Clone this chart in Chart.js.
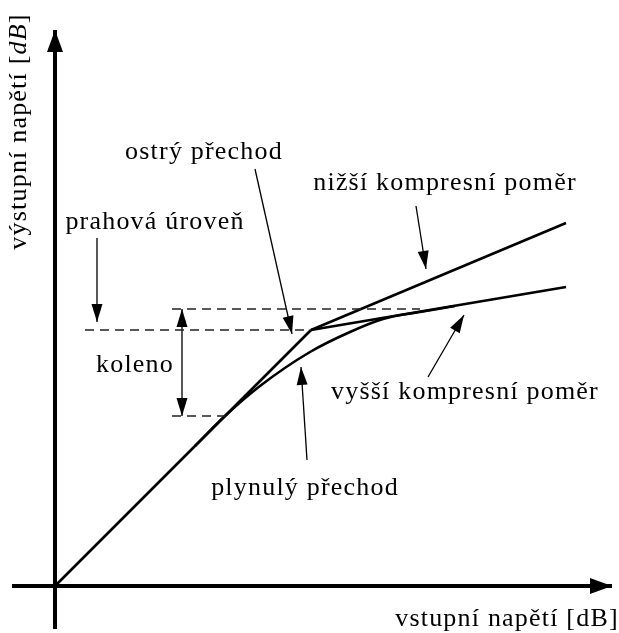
<!DOCTYPE html>
<html>
<head>
<meta charset="utf-8">
<script src="https://cdn.jsdelivr.net/npm/chart.js@4/dist/chart.umd.min.js"></script>
<style>
  html, body { margin: 0; padding: 0; background: #fff; }
</style>
</head>
<body>
<canvas id="kneeChart" width="619" height="633"></canvas>
<script>
// prevodni charakteristika kompresoru (jednotky = 10 px od pocatku)
const linearPart = [[0, 0], [25.6, 25.6]];
const lowRatio = [[25.6, 25.6], [51.1, 36.3]];
const highRatio = [[25.6, 25.6], [51.1, 29.9]];
const softKnee = [[14.0, 14.0], [17.0, 17.0], [20.5, 20.0], [25.5, 23.4], [29.5, 25.4], [32.8, 26.7], [36.5, 27.4], [40.0, 28.0]];

// pomocne carkovane cary
const thresholdDash = [[3.0, 25.6], [25.6, 25.6]];
const kneeTopDash = [[11.7, 27.7], [36.5, 27.7]];
const kneeBottomDash = [[11.7, 17.0], [17.0, 17.0]];

// osy
const xAxisLine = [[-4.3, 0], [55.7, 0]];
const yAxisLine = [[0, -4.3], [0, 55.6]];

// sipky popisku [od, k]
const arrowThreshold = [[4.2, 34.8], [4.2, 26.4]];
const arrowKnee = [[12.7, 27.7], [12.7, 17.0]];
const arrowHard = [[20.0, 41.7], [23.7, 25.2]];
const arrowLow = [[36.1, 38.0], [37.1, 31.7]];
const arrowHigh = [[37.3, 20.9], [40.9, 27.1]];
const arrowSoft = [[25.2, 12.6], [24.6, 21.9]];

// popisky
const labelTexts = ['ostrý přechod', 'prahová úroveň', 'nižší kompresní poměr', 'koleno', 'vyšší kompresní poměr', 'plynulý přechod', 'vstupní napětí [dB]'];
const labelX = [14.9, 10.0, 39.0, 8.0, 41.0, 25.0, 45.2];
const labelY = [43.4, 36.4, 40.3, 22.1, 19.4, 9.8, -3.3];
const yTitle = ['výstupní napětí [', 'dB', ']'];
const yTitlePos = [-3.6, 45.45];

const ink = '#000';
const font = '"Liberation Serif", serif';
const fontSize = 26;
const spacing = '1.2px';

function pts(arr) {
    return arr.map(p => ({ x: p[0], y: p[1] }));
}

function line(data, width, extra) {
    return Object.assign({
        data: pts(data),
        showLine: true,
        borderColor: ink,
        borderWidth: width,
        pointRadius: 0,
        fill: false
    }, extra || {});
}

// sipky a texty
const arrowPlugin = {
    id: 'arrowPlugin',
    afterDatasetsDraw(chart) {
        const ctx = chart.ctx;
        chart.data.datasets.forEach((ds, i) => {
            if (!ds.arrowHead) return;
            const pts = chart.getDatasetMeta(i).data;
            const head = (tip, from) => {
                const ang = Math.atan2(tip.y - from.y, tip.x - from.x);
                const len = ds.arrowHead.len, w = ds.arrowHead.w;
                ctx.save();
                ctx.translate(tip.x, tip.y);
                ctx.rotate(ang);
                ctx.beginPath();
                ctx.moveTo(0, 0);
                ctx.lineTo(-len, -w / 2);
                ctx.lineTo(-len, w / 2);
                ctx.closePath();
                ctx.fillStyle = ink;
                ctx.fill();
                ctx.restore();
            };
            const n = pts.length;
            head(pts[n - 1], pts[n - 2]);
            if (ds.arrowHead.both) head(pts[0], pts[1]);
        });

        const xs = chart.scales.x, ys = chart.scales.y;
        ctx.save();
        ctx.fillStyle = ink;
        ctx.font = fontSize + 'px ' + font;
        ctx.letterSpacing = spacing;
        ctx.textAlign = 'center';
        ctx.textBaseline = 'middle';
        labelTexts.forEach((t, i) => {
            ctx.fillText(t, xs.getPixelForValue(labelX[i]), ys.getPixelForValue(labelY[i]));
        });
        ctx.restore();

        // svisly popis osy y, "dB" kurzivou
        ctx.save();
        ctx.translate(xs.getPixelForValue(yTitlePos[0]), ys.getPixelForValue(yTitlePos[1]));
        ctx.rotate(-Math.PI / 2);
        ctx.fillStyle = ink;
        ctx.letterSpacing = spacing;
        ctx.textBaseline = 'middle';
        ctx.textAlign = 'left';
        const fonts = [fontSize + 'px ' + font, 'italic ' + fontSize + 'px ' + font, fontSize + 'px ' + font];
        let total = 0;
        const widths = yTitle.map((t, i) => { ctx.font = fonts[i]; const w = ctx.measureText(t).width; total += w; return w; });
        let cx = -total / 2;
        yTitle.forEach((t, i) => {
            ctx.font = fonts[i];
            ctx.fillText(t, cx, 0);
            cx += widths[i];
        });
        ctx.restore();
    }
};

const dash = { borderDash: [9, 6], borderWidth: 1.3, borderColor: '#222' };
const thinArrow = { arrowHead: { len: 18, w: 11 } };

new Chart(document.getElementById('kneeChart'), {
    type: 'scatter',
    data: {
        datasets: [
            line(xAxisLine, 4, { arrowHead: { len: 22, w: 16 } }),
            line(yAxisLine, 4, { arrowHead: { len: 22, w: 16 } }),
            line(thresholdDash, 1.3, dash),
            line(kneeTopDash, 1.3, dash),
            line(kneeBottomDash, 1.3, dash),
            line(linearPart, 2.6),
            line(lowRatio, 2.6),
            line(highRatio, 2.6),
            line(softKnee, 2.6, { cubicInterpolationMode: 'monotone' }),
            line(arrowThreshold, 1.3, thinArrow),
            line(arrowKnee, 1.3, { arrowHead: { len: 18, w: 11, both: true } }),
            line(arrowHard, 1.3, thinArrow),
            line(arrowLow, 1.3, thinArrow),
            line(arrowHigh, 1.3, thinArrow),
            line(arrowSoft, 1.3, thinArrow)
        ]
    },
    options: {
        responsive: false,
        animation: false,
        layout: { padding: 0 },
        plugins: { legend: { display: false }, tooltip: { enabled: false } },
        scales: {
            x: { type: 'linear', min: -5.5, max: 56.4, display: false },
            y: { type: 'linear', min: -4.7, max: 58.6, display: false }
        }
    },
    plugins: [arrowPlugin]
});
</script>
</body>
</html>
